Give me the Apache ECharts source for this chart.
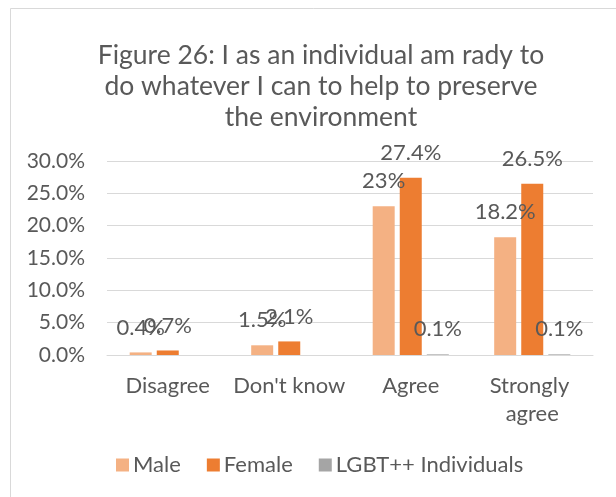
<!DOCTYPE html>
<html>
<head>
<meta charset="utf-8">
<style>
html,body{margin:0;padding:0;background:#fff;}
#chart{width:616px;height:497px;}
</style>
<script src="https://cdn.jsdelivr.net/npm/echarts@6/dist/echarts.min.js"></script>
</head>
<body>
<div id="chart"></div>
<script>
var categories = ['Disagree', "Don't know", 'Agree', 'Strongly agree'];
var maleValues = [0.4, 1.5, 23, 18.2];
var femaleValues = [0.7, 2.1, 27.4, 26.5];
var lgbtValues = [null, null, 0.1, 0.1];
var seriesNames = ['Male', 'Female', 'LGBT++ Individuals'];
var yTicks = [0, 5, 10, 15, 20, 25, 30];
var titleText = 'Figure 26: I as an individual am rady to\ndo whatever I can to help to preserve\nthe environment';

var FONT = 'Lato';
var TXT = '#595959';
var colors = ['#F4B183', '#ED7D31', '#A5A5A5'];

function labelCfg() {
  return {
    show: true,
    position: 'top',
    distance: 14,
    color: TXT,
    fontFamily: FONT,
    fontSize: 22,
    formatter: function (p) { return p.value == null ? '' : p.value + '%'; }
  };
}

var chart = echarts.init(document.getElementById('chart'), null, {renderer: 'canvas'});
var data = [maleValues, femaleValues, lgbtValues];
chart.setOption({
  animation: false,
  backgroundColor: '#fff',
  graphic: [{
    type: 'rect',
    shape: {x: 10.5, y: 8.5, width: 640, height: 520},
    style: {fill: 'none', stroke: '#d9d9d9', lineWidth: 1},
    silent: true, z: -1
  }],
  title: {
    text: titleText,
    left: 316, top: 35, textAlign: 'center',
    textStyle: {color: TXT, fontFamily: FONT, fontSize: 26.5, fontWeight: 'normal', lineHeight: 31}
  },
  legend: {
    data: seriesNames,
    top: 449,
    left: 111,
    itemWidth: 13, itemHeight: 13, itemGap: 26,
    icon: 'rect',
    textStyle: {color: TXT, fontFamily: FONT, fontSize: 22, padding: [0, 0, 0, -1]}
  },
  grid: {left: 107, right: 23, top: 161, bottom: 142},
  xAxis: {
    type: 'category',
    data: categories,
    axisLine: {lineStyle: {color: '#d9d9d9', width: 1}},
    axisTick: {show: false},
    axisLabel: {color: TXT, fontFamily: FONT, fontSize: 22, margin: 17, lineHeight: 28, width: 121, overflow: 'break', interval: 0}
  },
  yAxis: {
    type: 'value',
    min: 0, max: 30, interval: 5,
    axisLine: {show: false},
    axisTick: {show: false},
    splitLine: {lineStyle: {color: '#d9d9d9', width: 1}},
    axisLabel: {color: TXT, fontFamily: FONT, fontSize: 21, margin: 22,
      formatter: function (v) { return yTicks.indexOf(v) >= 0 ? v.toFixed(1) + '%' : ''; }}
  },
  series: seriesNames.map(function (n, i) {
    return {
      name: n, type: 'bar', data: data[i],
      barWidth: 22, barGap: '23%',
      itemStyle: {color: colors[i]},
      label: labelCfg()
    };
  })
});
</script>
</body>
</html>
